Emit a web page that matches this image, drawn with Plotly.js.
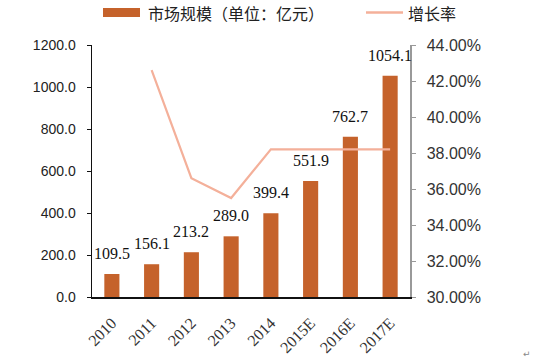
<!DOCTYPE html>
<html>
<head>
<meta charset="utf-8">
<script src="https://cdn.plot.ly/plotly-3.0.1.min.js"></script>
<style>html,body{margin:0;padding:0;background:#fff;}#chart{width:559px;height:362px;}</style>
</head>
<body>
<div id="chart"></div>
<script>
var categories = ["2010", "2011", "2012", "2013", "2014", "2015E", "2016E", "2017E"];
var marketSize = [109.5, 156.1, 213.2, 289.0, 399.4, 551.9, 762.7, 1054.1];
var growthRate = [null, 42.6, 36.6, 35.5, 38.2, 38.2, 38.2, 38.2];
var barName = "市场规模（单位：亿元）";
var lineName = "增长率";

var W = 559, H = 362;
var L = 92, R = 410, T = 45, B = 297;
function px(x){ return (x - L) / (R - L); }
function py(y){ return (B - y) / (B - T); }

var barColor = "#C5622B";
var lineColor = "#F4B09A";

var traces = [
  {
    type: "bar", x: categories, y: marketSize, name: barName,
    marker: {color: barColor}, yaxis: "y", hoverinfo: "x+y"
  },
  {
    type: "scatter", mode: "lines", x: categories, y: growthRate, name: lineName,
    line: {color: lineColor, width: 2.2}, yaxis: "y2", connectgaps: false
  }
];

var annotations = categories.map(function(c, i){
  return {
    x: i, y: marketSize[i], xref: "x", yref: "y",
    text: marketSize[i].toFixed(1), showarrow: false,
    yanchor: "bottom", yshift: 10,
    font: {family: "Liberation Serif, Times New Roman, serif", size: 16, color: "#111"}
  };
});

var legendFont = {family: "Noto Sans CJK SC, sans-serif", size: 16, color: "#222"};
annotations.push({
  xref: "paper", yref: "paper", x: px(146), y: py(12.5), xanchor: "left", yanchor: "middle",
  text: barName, showarrow: false, font: legendFont
});
annotations.push({
  xref: "paper", yref: "paper", x: px(406), y: py(12.5), xanchor: "left", yanchor: "middle",
  text: lineName, showarrow: false, font: legendFont
});
annotations.push({
  xref: "paper", yref: "paper", x: px(527), y: py(354), xanchor: "center", yanchor: "middle",
  text: "↵", showarrow: false, font: {family: "DejaVu Sans", size: 9, color: "#888"}
});

var shapes = [
  {type: "rect", xref: "paper", yref: "paper", x0: px(103), x1: px(140), y0: py(17), y1: py(8),
   fillcolor: barColor, line: {width: 0}},
  {type: "line", xref: "paper", yref: "paper", x0: px(366), x1: px(403), y0: py(12.5), y1: py(12.5),
   line: {color: lineColor, width: 2.5}}
];

var layout = {
  width: W, height: H,
  margin: {l: L, r: W - R, t: T, b: H - B, pad: 0},
  paper_bgcolor: "#fff", plot_bgcolor: "#fff",
  showlegend: false,
  bargap: 0.62,
  xaxis: {
    type: "category", range: [-0.5, categories.length - 0.5], autorange: false,
    showline: true, linecolor: "#111", linewidth: 1.5,
    ticks: "", tickangle: -45, showgrid: false, zeroline: false, ticklabelstandoff: 9,
    tickfont: {family: "Liberation Serif, Times New Roman, serif", size: 16, color: "#333"}
  },
  yaxis: {
    range: [0, 1200], autorange: false, dtick: 200, tickformat: ".1f",
    showline: true, linecolor: "#111", linewidth: 1.5,
    ticks: "outside", ticklen: 4, tickcolor: "#111", tickwidth: 1,
    showgrid: false, zeroline: false, ticklabelstandoff: 8,
    tickfont: {family: "Liberation Sans, Arial, sans-serif", size: 14, color: "#222"}
  },
  yaxis2: {
    overlaying: "y", side: "right", range: [30, 44], autorange: false, dtick: 2,
    tickformat: ".2f", ticksuffix: "%",
    showline: true, linecolor: "#999", linewidth: 1.5,
    ticks: "outside", ticklen: 4, tickcolor: "#999",
    showgrid: false, zeroline: false, ticklabelstandoff: 8,
    tickfont: {family: "Liberation Sans, Arial, sans-serif", size: 16, color: "#333"}
  },
  annotations: annotations,
  shapes: shapes
};

Plotly.newPlot("chart", traces, layout, {displayModeBar: false, staticPlot: true});
</script>
</body>
</html>
